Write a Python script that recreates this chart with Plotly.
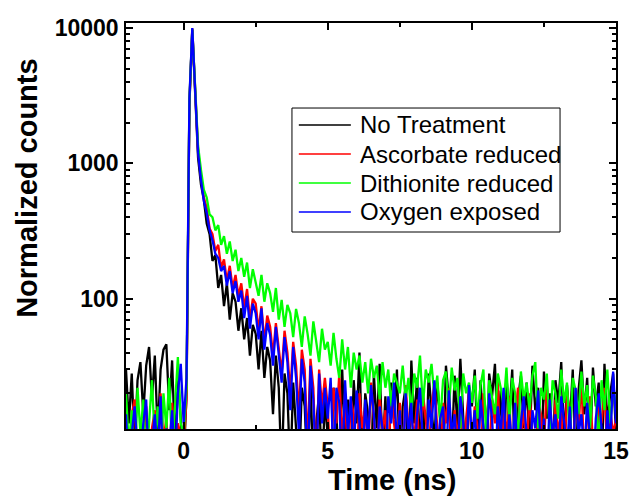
import numpy as np
import plotly.graph_objects as go

# time grid (ns), 0.1 ns channels from -2 to 15
time_ns = [round(-2.0 + 0.1 * i, 1) for i in range(171)]

no_treatment = [
    30, 12, 28, 8, 25, 34, 14, 32, 44, 18,
    38, 10, 30, 42, 46, 15, 35, 8, 28, 14,
    6, 20, 2700, 9700, 3500, 1100, 700, 540, 360, 300,
    190, 210, 120, 150, 88, 130, 70, 110, 95, 58,
    85, 50, 72, 38, 64, 55, 30, 58, 26, 44,
    35, 14, 38, 22, 5, 28, 20, 5, 24, 12,
    5, 22, 16, 5, 26, 5, 12, 20, 5, 18,
    10, 5, 22, 14, 5, 30, 9, 18, 5, 25,
    12, 40, 6, 20, 14, 5, 28, 11, 33, 7,
    19, 5, 24, 13, 30, 6, 16, 22, 5, 35,
    12, 26, 8, 20, 5, 28, 15, 9, 24, 13,
    5, 32, 18, 7, 27, 11, 36, 14, 5, 22,
    16, 30, 8, 25, 12, 5, 28, 19, 33, 9,
    21, 6, 26, 14, 30, 5, 18, 27, 11, 24,
    8, 32, 15, 22, 5, 29, 13, 20, 6, 25,
    17, 34, 9, 23, 12, 30, 5, 21, 35, 14,
    26, 7, 31, 16, 24, 5, 33, 12, 20, 28,
    10,
]

ascorbate = [
    10, 6, 14, 18, 5, 12, 8, 16, 7, 11,
    15, 5, 20, 9, 13, 6, 17, 8, 12, 10,
    8, 18, 2800, 9900, 3700, 1250, 800, 560, 470, 330,
    300, 225, 250, 170, 195, 135, 175, 120, 150, 105,
    130, 85, 118, 70, 100, 92, 58, 88, 48, 75,
    62, 38, 66, 45, 28, 58, 40, 20, 48, 32,
    14, 42, 30, 8, 36, 22, 5, 30, 16, 26,
    16, 5, 22, 12, 28, 9, 20, 6, 18, 14,
    5, 20, 11, 16, 7, 24, 13, 5, 19, 10,
    15, 6, 21, 12, 8, 17, 5, 23, 11, 14,
    9, 18, 5, 20, 13, 7, 16, 24, 10, 5,
    17, 12, 22, 6, 15, 9, 19, 5, 13, 21,
    8, 16, 11, 5, 20, 14, 7, 18, 12, 25,
    6, 15, 10, 19, 5, 13, 22, 9, 16, 7,
    20, 11, 5, 17, 14, 8, 23, 12, 6, 18,
    10, 15, 5, 21, 13, 8, 17, 11, 26, 6,
    14, 19, 9, 5, 16, 12, 22, 7, 15, 10,
    13,
]

dithionite = [
    20, 8, 15, 5, 22, 10, 18, 6, 12, 25,
    9, 16, 5, 20, 11, 26, 7, 18, 37, 12,
    10, 22, 2900, 9800, 3900, 1350, 900, 640, 560, 420,
    400, 320, 350, 250, 290, 215, 265, 190, 230, 160,
    200, 145, 185, 120, 165, 135, 105, 150, 95, 130,
    110, 80, 120, 70, 98, 62, 90, 78, 52, 84,
    66, 44, 74, 55, 38, 68, 48, 34, 60, 42,
    48, 32, 56, 36, 26, 50, 30, 44, 22, 40,
    30, 38, 24, 34, 20, 36, 26, 32, 18, 34,
    22, 30, 16, 28, 24, 20, 32, 18, 26, 14,
    28, 22, 38, 16, 30, 24, 33, 19, 27, 12,
    25, 29, 15, 31, 21, 26, 11, 28, 20, 24,
    17, 27, 13, 23, 30, 9, 25, 19, 14, 28,
    22, 16, 31, 12, 26, 20, 8, 29, 18, 24,
    15, 27, 34, 11, 22, 18, 28, 10, 25, 20,
    13, 30, 17, 24, 9, 26, 21, 14, 29, 16,
    23, 11, 27, 19, 8, 25, 15, 30, 12, 21,
    17,
]

oxygen = [
    14, 5, 10, 16, 8, 6, 12, 18, 5, 9,
    14, 7, 19, 5, 11, 8, 15, 6, 20, 33,
    12, 26, 3000, 10000, 3800, 1200, 760, 530, 430, 320,
    270, 215, 200, 160, 175, 125, 160, 110, 135, 95,
    115, 72, 105, 60, 92, 78, 50, 85, 42, 66,
    54, 32, 62, 38, 24, 52, 34, 15, 44, 26,
    10, 36, 24, 5, 32, 18, 5, 28, 12, 22,
    13, 26, 6, 22, 17, 5, 25, 10, 19, 7,
    21, 12, 5, 18, 9, 23, 14, 6, 16, 11,
    5, 19, 12, 24, 8, 15, 5, 20, 10, 17,
    6, 14, 22, 9, 5, 18, 11, 25, 7, 13,
    16, 5, 21, 10, 14, 6, 19, 12, 5, 23,
    9, 15, 5, 18, 11, 7, 20, 13, 5, 16,
    10, 22, 6, 14, 8, 17, 5, 12, 19, 9,
    5, 15, 11, 21, 7, 13, 5, 18, 10, 14,
    6, 19, 12, 8, 16, 5, 22, 10, 14, 7,
    17, 9, 5, 13, 20, 11, 6, 15, 8, 29,
    12,
]

series_names = ["No Treatment", "Ascorbate reduced", "Dithionite reduced", "Oxygen exposed"]
series_data = [no_treatment, ascorbate, dithionite, oxygen]
series_colors = ["#000000", "#ff0000", "#00ff00", "#0000ff"]

x_ticks = [0, 5, 10, 15]
y_ticks = [100, 1000, 10000]
y_ticktext = ["100", "1000", "10000"]

FONT = "Liberation Sans, Arial, sans-serif"

fig = go.Figure()
for name, data, color in zip(series_names, series_data, series_colors):
    fig.add_trace(go.Scatter(x=time_ns, y=data, mode="lines", name=name,
                             line=dict(color=color, width=2.3), showlegend=False))

minor_y = [m * 10 ** d for d in range(1, 4) for m in range(2, 10)]

fig.update_layout(
    width=641, height=498,
    margin=dict(l=126, r=16, t=23, b=69),
    paper_bgcolor="white", plot_bgcolor="white",
    font=dict(family=FONT, color="black"),
    xaxis=dict(range=[-2, 15], tickvals=x_ticks, ticks="inside", ticklen=7, tickwidth=1.5,
               tickcolor="black", showline=True, linecolor="black", linewidth=1.5,
               mirror="ticks", showgrid=False, zeroline=False,
               tickfont=dict(family=FONT, size=23, weight="bold"),
               ticklabelstandoff=1,
               minor=dict(tickvals=[2.5, 7.5, 12.5], ticks="inside", ticklen=4,
                          tickcolor="black", showgrid=False)),
    yaxis=dict(type="log", range=[np.log10(10.9), np.log10(10890)],
               tickvals=y_ticks, ticktext=y_ticktext, ticks="inside", ticklen=7, tickwidth=1.5,
               tickcolor="black", showline=True, linecolor="black", linewidth=1.5,
               mirror="ticks", showgrid=False, zeroline=False,
               tickfont=dict(family=FONT, size=23, weight="bold"),
               ticklabelstandoff=1,
               minor=dict(tickvals=minor_y, ticks="inside", ticklen=4,
                          tickcolor="black", showgrid=False)),
)

# axis titles
fig.add_annotation(text="Time (ns)", xref="paper", yref="paper", x=0.543, y=-0.1256,
                   xanchor="center", yanchor="middle", showarrow=False,
                   font=dict(family=FONT, size=29, weight="bold"))
fig.add_annotation(text="Normalized counts", xref="paper", yref="paper", x=-0.2024, y=0.5936,
                   xanchor="center", yanchor="middle", showarrow=False, textangle=-90,
                   font=dict(family=FONT, size=29, weight="bold"))

# legend box
fig.add_shape(type="rect", xref="paper", yref="paper", x0=0.3387, x1=0.8858, y0=0.4852, y1=0.7906,
              line=dict(color="black", width=1), fillcolor="white", layer="above")
row_y = [0.7488, 0.6773, 0.6059, 0.5345]
for name, color, yy in zip(series_names, series_colors, row_y):
    fig.add_shape(type="line", xref="paper", yref="paper", x0=0.3527, x1=0.4589, y0=yy, y1=yy,
                  line=dict(color=color, width=1.5), layer="above")
    fig.add_annotation(text=name, xref="paper", yref="paper", x=0.473, y=yy,
                       xanchor="left", yanchor="middle", showarrow=False,
                       font=dict(family=FONT, size=24, color="black"))

fig.write_html("out.html")
